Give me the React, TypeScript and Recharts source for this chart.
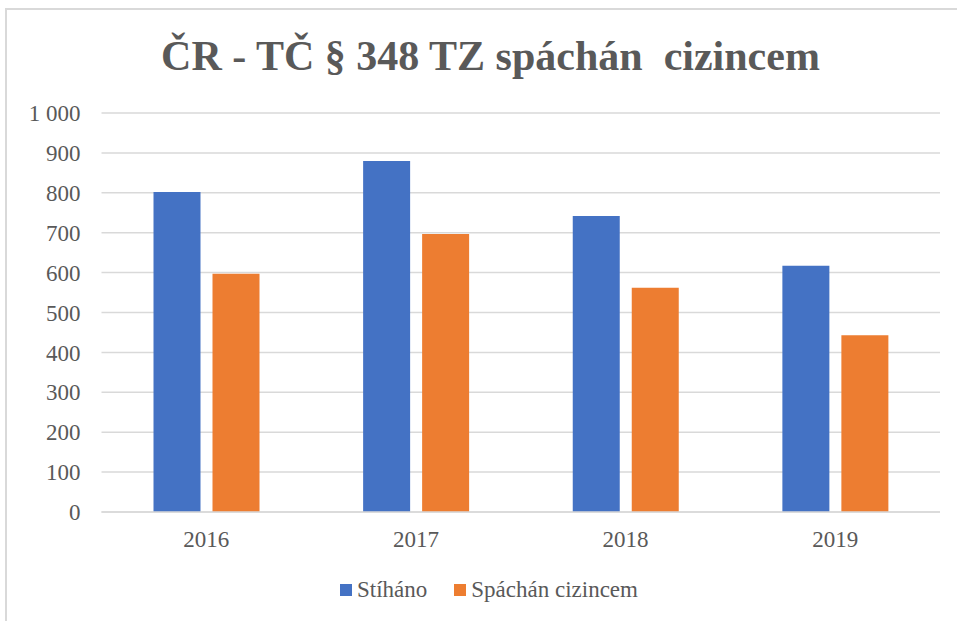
import React from "react";
import { BarChart, Bar, XAxis, YAxis, CartesianGrid } from "recharts";

const categories = ["2016", "2017", "2018", "2019"];
const stihano = [802, 880, 742, 617];
const spachan = [597, 697, 562, 443];
const yTicks = [0, 100, 200, 300, 400, 500, 600, 700, 800, 900, 1000];
const seriesNames = ["Stíháno", "Spáchán cizincem"];
const seriesColors = ["#4472C4", "#ED7D31"];
const title = "ČR - TČ § 348 TZ spáchán  cizincem";

const data = categories.map((c, i) => ({ year: c, a: stihano[i], b: spachan[i] }));

const fmt = (v: number) => (v >= 1000 ? `${Math.floor(v / 1000)} ${String(v % 1000).padStart(3, "0")}` : String(v));

const font = "'Liberation Serif', 'Times New Roman', serif";

export default function App() {
  return (
    <div style={{ position: "absolute", left: 0, top: 0, width: 957, height: 621, background: "#fff", overflow: "hidden" }}>
      <div style={{ position: "absolute", left: 5, top: 8, right: 0, bottom: 0, borderTop: "2px solid #d9d9d9", borderLeft: "2px solid #d9d9d9" }} />
      <div style={{ position: "absolute", left: 0, width: 981, top: 26, textAlign: "center", fontFamily: font, fontWeight: "bold", fontSize: 42, color: "#595959", whiteSpace: "pre", lineHeight: "60px" }}>
        {title}
      </div>
      <div style={{ position: "absolute", left: 0, top: 0 }}>
        <BarChart width={957} height={621} data={data} margin={{ top: 113, right: 17, bottom: 0, left: 0 }} barGap={12} barSize={47}>
          <CartesianGrid vertical={false} stroke="#d9d9d9" strokeWidth={1.5} />
          <XAxis dataKey="year" height={109} tickLine={false} axisLine={{ stroke: "#d9d9d9", strokeWidth: 1.5 }} tickSize={6} tickMargin={13} tick={{ fontFamily: font, fontSize: 23, fill: "#595959" }} />
          <YAxis width={101.5} domain={[0, 1000]} ticks={yTicks} tickFormatter={fmt} interval={0} axisLine={false} tickLine={false} tickSize={6} tickMargin={15} tick={{ fontFamily: font, fontSize: 23, fill: "#595959" }} />
          <Bar dataKey="a" name={seriesNames[0]} fill={seriesColors[0]} isAnimationActive={false} />
          <Bar dataKey="b" name={seriesNames[1]} fill={seriesColors[1]} isAnimationActive={false} />
        </BarChart>
      </div>
      <div style={{ position: "absolute", left: 340, top: 575, display: "flex", alignItems: "center", fontFamily: font, fontSize: 23, color: "#595959", lineHeight: "30px", whiteSpace: "nowrap" }}>
        {seriesNames.map((n, i) => (
          <div key={n} style={{ display: "flex", alignItems: "center", marginRight: i === 0 ? 27 : 0 }}>
            <span style={{ display: "inline-block", width: 12, height: 12, background: seriesColors[i], marginRight: 5 }} />
            <span>{n}</span>
          </div>
        ))}
      </div>
    </div>
  );
}
